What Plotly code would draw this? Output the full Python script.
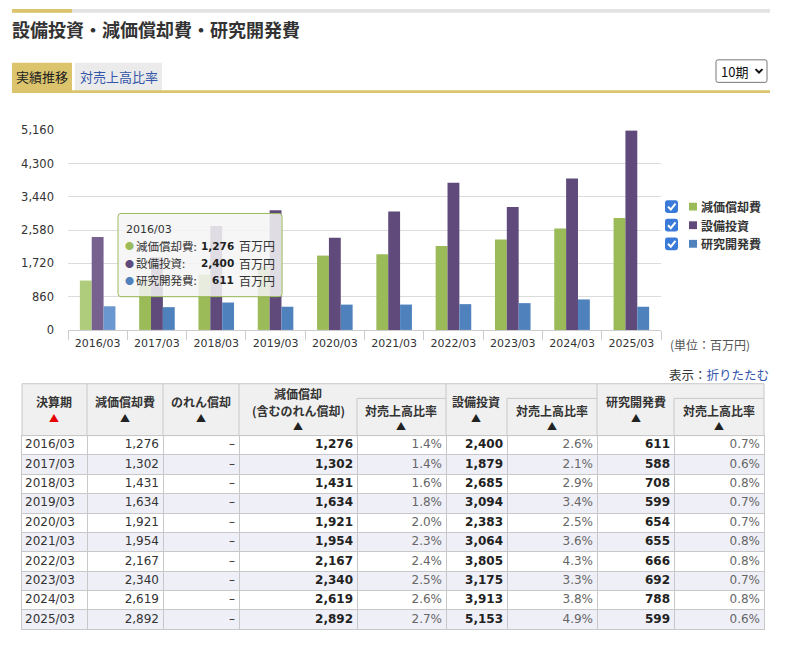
import plotly.graph_objects as go

W, H = 793, 652


def X(px):
    return px / W


def Y(py):
    return 1 - py / H


# ---------------- data ----------------
periods = ["2016/03", "2017/03", "2018/03", "2019/03", "2020/03",
           "2021/03", "2022/03", "2023/03", "2024/03", "2025/03"]
series_names = ["減価償却費", "設備投資", "研究開発費"]
depreciation = [1276, 1302, 1431, 1634, 1921, 1954, 2167, 2340, 2619, 2892]
goodwill_amort = ["–", "–", "–", "–", "–", "–", "–", "–", "–", "–"]
dep_incl_goodwill = [1276, 1302, 1431, 1634, 1921, 1954, 2167, 2340, 2619, 2892]
dep_ratio = [1.4, 1.4, 1.6, 1.8, 2.0, 2.3, 2.4, 2.5, 2.6, 2.7]
capex = [2400, 1879, 2685, 3094, 2383, 3064, 3805, 3175, 3913, 5153]
capex_ratio = [2.6, 2.1, 2.9, 3.4, 2.5, 3.6, 4.3, 3.3, 3.8, 4.9]
rnd = [611, 588, 708, 599, 654, 655, 666, 692, 788, 599]
rnd_ratio = [0.7, 0.6, 0.8, 0.7, 0.7, 0.8, 0.8, 0.7, 0.8, 0.6]
y_ticks = [0, 860, 1720, 2580, 3440, 4300, 5160]
hover_index = 0
unit = "百万円"
page_title = "設備投資・減価償却費・研究開発費"
tab_labels = ["実績推移", "対売上高比率"]
period_select = "10期"

# ---------------- styles ----------------
colors = ["#9bbb59", "#5f4a7b", "#4f81bd"]
hover_colors = ["#afcc7c", "#76618f", "#6a97cf"]
JP = "Noto Sans CJK JP"
NUM = "DejaVu Sans"
GOLD = "#dcc46c"
LINK = "#3355aa"
GRID = "#dcdcdc"
BORDER = "#c8c8c8"

fig = go.Figure()

series_values = [depreciation, capex, rnd]
for i, name in enumerate(series_names):
    fig.add_trace(go.Bar(
        x=periods, y=series_values[i], name=name,
        marker=dict(color=[hover_colors[i] if j == hover_index else colors[i]
                           for j in range(len(periods))], line=dict(width=0)),
        showlegend=False, hoverinfo="skip",
    ))

# ---------------- table (drawn on its own axes) ----------------
n_rows = len(periods)
row_centers = [k + 0.5 for k in range(n_rows)]
col_edges = [22, 87, 163, 239, 357, 446, 507, 597, 674, 764]
cols = [
    periods,
    [f"{v:,}" for v in depreciation],
    goodwill_amort,
    [f"<b>{v:,}</b>" for v in dep_incl_goodwill],
    [f"{v:.1f}%" for v in dep_ratio],
    [f"<b>{v:,}</b>" for v in capex],
    [f"{v:.1f}%" for v in capex_ratio],
    [f"<b>{v:,}</b>" for v in rnd],
    [f"{v:.1f}%" for v in rnd_ratio],
]
col_colors = ["#333", "#333", "#333", "#222", "#666", "#222", "#666", "#222", "#666"]
for c, vals in enumerate(cols):
    if c == 0:
        xpos, tpos = col_edges[c] + 3, "middle right"
    else:
        xpos, tpos = col_edges[c + 1] - 4, "middle left"
    fig.add_trace(go.Scatter(
        x=[xpos] * n_rows, y=row_centers, text=vals, mode="text",
        textposition=tpos, textfont=dict(family=NUM, size=12, color=col_colors[c]),
        xaxis="x2", yaxis="y2", showlegend=False, hoverinfo="skip", cliponaxis=False,
    ))

fig.update_layout(
    width=W, height=H, autosize=False,
    margin=dict(l=0, r=0, t=0, b=0),
    paper_bgcolor="white", plot_bgcolor="rgba(0,0,0,0)",
    barmode="group", bargap=0.40, bargroupgap=0.0,
    font=dict(family=NUM, color="#333"),
    xaxis=dict(domain=[X(68), X(661)], type="category",
               tickson="boundaries", ticks="outside", ticklen=9, tickcolor="#cccccc",
               showline=True, linecolor="#cccccc", linewidth=1, showgrid=False,
               ticklabelstandoff=3,
               tickfont=dict(family=NUM, size=11, color="#333"), fixedrange=True),
    yaxis=dict(domain=[Y(330), Y(126)], range=[0, 5160], tickvals=y_ticks,
               tickformat=",d", showgrid=True, gridcolor=GRID, zeroline=False,
               showline=False, ticks="", ticklabelstandoff=13,
               tickfont=dict(family=NUM, size=11.5, color="#333"), fixedrange=True),
    xaxis2=dict(domain=[X(22), X(764)], range=[col_edges[0], col_edges[-1]], anchor="y2",
                tickvals=col_edges, showgrid=True, gridcolor=BORDER, gridwidth=1,
                showticklabels=False, ticks="", zeroline=False,
                showline=True, mirror=True, linecolor=BORDER, fixedrange=True),
    yaxis2=dict(domain=[Y(636), Y(438)], range=[n_rows, 0], anchor="x2",
                tickvals=list(range(n_rows + 1)), showgrid=True, gridcolor=BORDER, gridwidth=1,
                showticklabels=False, ticks="", zeroline=False,
                showline=True, mirror=True, linecolor=BORDER, fixedrange=True),
)

shapes = []
annos = []

# alternating row fills
for k in range(n_rows):
    if k % 2 == 1:
        shapes.append(dict(type="rect", xref="x2", yref="y2", x0=col_edges[0], x1=col_edges[-1],
                           y0=k, y1=k + 1, fillcolor="#efeff7", line=dict(width=0), layer="below"))


def rect(x0, y0, x1, y1, fill, line=None, lw=0, layer="below"):
    shapes.append(dict(type="rect", xref="paper", yref="paper",
                       x0=X(x0), x1=X(x1), y0=Y(y1), y1=Y(y0),
                       fillcolor=fill, line=dict(color=line or fill, width=lw), layer=layer))


def hline(x0, x1, y, color=BORDER, w=1):
    shapes.append(dict(type="line", xref="paper", yref="paper",
                       x0=X(x0), x1=X(x1), y0=Y(y), y1=Y(y), line=dict(color=color, width=w)))


def vline(x, y0, y1, color=BORDER, w=1):
    shapes.append(dict(type="line", xref="paper", yref="paper",
                       x0=X(x), x1=X(x), y0=Y(y0), y1=Y(y1), line=dict(color=color, width=w)))


def rrect_path(x0, y0, x1, y1, r):
    p = [
        f"M{X(x0 + r)},{Y(y0)}", f"L{X(x1 - r)},{Y(y0)}", f"Q{X(x1)},{Y(y0)} {X(x1)},{Y(y0 + r)}",
        f"L{X(x1)},{Y(y1 - r)}", f"Q{X(x1)},{Y(y1)} {X(x1 - r)},{Y(y1)}",
        f"L{X(x0 + r)},{Y(y1)}", f"Q{X(x0)},{Y(y1)} {X(x0)},{Y(y1 - r)}",
        f"L{X(x0)},{Y(y0 + r)}", f"Q{X(x0)},{Y(y0)} {X(x0 + r)},{Y(y0)}", "Z",
    ]
    return " ".join(p)


def text(x, y, s, size=12, color="#333", family=JP, xanchor="left", bold=False):
    annos.append(dict(xref="paper", yref="paper", x=X(x), y=Y(y), text=(f"<b>{s}</b>" if bold else s),
                      showarrow=False, xanchor=xanchor, yanchor="middle",
                      font=dict(size=size, color=color, family=family)))


# header band + title
rect(12, 2, 770, 6, "#e3e3e3")
rect(12, 2, 72, 6, GOLD)
text(10, 22, page_title, size=18, color="#333", bold=True)

# tabs
rect(12, 57, 72, 86, GOLD)
rect(75, 57, 162, 86, "#ebebeb")
rect(12, 85, 770, 88, GOLD)
text(42, 71, tab_labels[0], size=13, color="#222", xanchor="center")
text(118.5, 71, tab_labels[1], size=13, color=LINK, xanchor="center")

# period select
shapes.append(dict(type="path", xref="paper", yref="paper", path=rrect_path(716, 54, 767, 77, 2),
                   fillcolor="white", line=dict(color="#767676", width=1)))
text(719, 66, period_select, size=13, color="#111")
shapes.append(dict(type="path", xref="paper", yref="paper",
                   path=f"M{X(755.5)},{Y(63.5)} L{X(759)},{Y(67)} L{X(762.5)},{Y(63.5)}",
                   line=dict(color="#111", width=2)))

# legend (checkbox + swatch + name)
leg_y = [204, 223, 242]
for i, name in enumerate(series_names):
    yy = leg_y[i]
    shapes.append(dict(type="path", xref="paper", yref="paper",
                       path=rrect_path(665, yy - 6.5, 678, yy + 6.5, 2.5),
                       fillcolor="#3a7ad8", line=dict(color="#3a7ad8", width=0)))
    shapes.append(dict(type="path", xref="paper", yref="paper",
                       path=f"M{X(668)},{Y(yy)} L{X(670.8)},{Y(yy + 3)} L{X(675.5)},{Y(yy - 3)}",
                       line=dict(color="white", width=2)))
    rect(689, yy - 4, 697, yy + 4, colors[i])
    text(699, yy, name, size=12, color="#333", bold=True)

text(668, 345, f"(単位：{unit})", size=12, color="#555")
annos.append(dict(xref="paper", yref="paper", x=X(771), y=Y(376), showarrow=False,
                  xanchor="right", yanchor="middle",
                  text=f"表示：<span style='color:{LINK}'>折りたたむ</span>",
                  font=dict(size=12.5, color="#333", family=JP)))

# tooltip
shapes.append(dict(type="path", xref="paper", yref="paper", path=rrect_path(119, 212, 283, 297, 3),
                   fillcolor="rgba(0,0,0,0.05)", line=dict(width=0), layer="above"))
shapes.append(dict(type="path", xref="paper", yref="paper", path=rrect_path(118, 211, 282, 296, 3),
                   fillcolor="rgba(247,247,247,0.85)", line=dict(color="#9bbb59", width=1), layer="above"))
text(124, 227, periods[hover_index], size=11, color="#333", family=NUM)
tip_y = [244, 262, 279]
for i, name in enumerate(series_names):
    yy = tip_y[i]
    text(129, yy, "●", size=9, color=colors[i], xanchor="center")
    text(134, yy, f"{name}:", size=11.5, color="#333")
    text(236, yy, f"{series_values[i][hover_index]:,}", size=10.5, color="#222", family=NUM,
         xanchor="right", bold=True)
    text(237, yy, unit, size=12, color="#333")

# table header
rect(22, 385, 764, 438, "#f0f0f0", line=BORDER, lw=1)
for xe in [87, 163, 239, 446, 597]:
    vline(xe, 385, 438)
for xe in [357, 507, 674]:
    vline(xe, 400, 438)
hline(357, 446, 400)
hline(507, 597, 400)
hline(674, 764, 400)

header_single = [(0, "決算期"), (1, "減価償却費"), (2, "のれん償却"), (5, "設備投資"), (7, "研究開発費")]
for c, lab in header_single:
    cx = (col_edges[c] + col_edges[c + 1]) / 2
    text(cx, 403, lab, size=12, color="#333", xanchor="center", bold=True)
    text(cx, 420, "▲", size=10, color=("#e60000" if c == 0 else "#222"), xanchor="center")
cx = (col_edges[3] + col_edges[4]) / 2
text(cx, 395, "減価償却", size=12, color="#333", xanchor="center", bold=True)
text(cx, 412, "(含むのれん償却)", size=12, color="#333", xanchor="center", bold=True)
text(cx, 428, "▲", size=10, color="#222", xanchor="center")
for c in [4, 6, 8]:
    cx = (col_edges[c] + col_edges[c + 1]) / 2
    text(cx, 412, "対売上高比率", size=12, color="#333", xanchor="center", bold=True)
    text(cx, 428, "▲", size=10, color="#222", xanchor="center")

fig.update_layout(shapes=shapes, annotations=annos)

fig.write_html("out.html", config={"displayModeBar": False},
               post_script="document.body.style.margin='0';document.body.style.overflow='hidden';")
